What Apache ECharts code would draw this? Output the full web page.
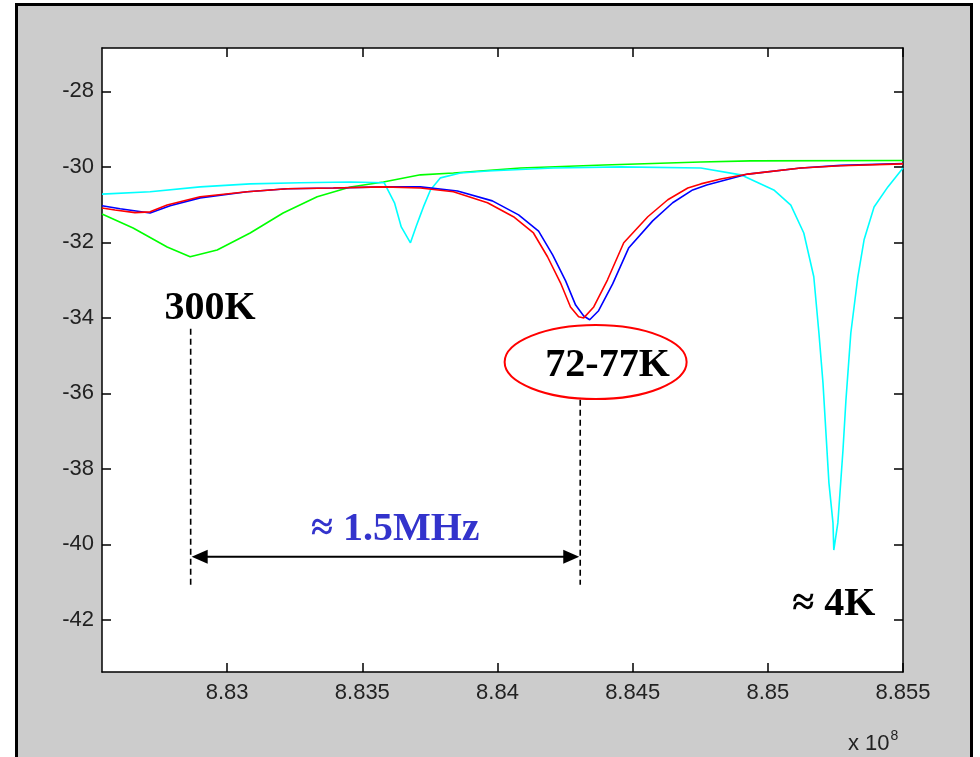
<!DOCTYPE html>
<html>
<head>
<meta charset="utf-8">
<script src="https://cdn.jsdelivr.net/npm/echarts@6/dist/echarts.min.js"></script>
<style>
html, body { margin: 0; padding: 0; background: #fff; }
#wrap { position: relative; width: 980px; height: 757px; overflow: hidden; }
#frame { position: absolute; left: 15px; top: 3px; width: 952px; height: 800px; background: #ccc; border: 3px solid #000; }
#curve { position: absolute; left: 0; top: 0; width: 980px; height: 757px; }
</style>
</head>
<body>
<div id="wrap">
  <div id="frame"></div>
  <div id="curve"></div>
</div>
<script>
// frequency in units of 1e8 Hz, level in dB
var xTicks = [8.83, 8.835, 8.84, 8.845, 8.85, 8.855];
var yTicks = [-42, -40, -38, -36, -34, -32, -30, -28];

var red77K = [
  [8.82537, -31.09], [8.82585, -31.14], [8.82659, -31.21], [8.82715, -31.19], [8.82778, -31.01],
  [8.82900, -30.79], [8.83074, -30.66], [8.83222, -30.58], [8.83393, -30.56], [8.83578, -30.53],
  [8.83715, -30.56], [8.83837, -30.66], [8.83963, -30.95], [8.84059, -31.32], [8.84133, -31.75],
  [8.84185, -32.38], [8.84233, -33.07], [8.84270, -33.71], [8.84300, -33.97], [8.84319, -34.00],
  [8.84356, -33.71], [8.84407, -32.99], [8.84467, -32.01], [8.84556, -31.32], [8.84630, -30.87],
  [8.84704, -30.56], [8.84752, -30.45], [8.84826, -30.32], [8.84926, -30.19], [8.85122, -30.03],
  [8.85270, -29.97], [8.85500, -29.92]
];
var blue72K = [
  [8.82537, -31.03], [8.82604, -31.11], [8.82715, -31.22], [8.82789, -31.03], [8.82900, -30.82],
  [8.83074, -30.66], [8.83222, -30.58], [8.83393, -30.56], [8.83578, -30.53], [8.83715, -30.53],
  [8.83852, -30.64], [8.83981, -30.90], [8.84078, -31.27], [8.84152, -31.70], [8.84204, -32.33],
  [8.84252, -33.02], [8.84289, -33.66], [8.84319, -33.95], [8.84341, -34.05], [8.84374, -33.81],
  [8.84426, -33.10], [8.84485, -32.15], [8.84574, -31.43], [8.84648, -30.95], [8.84722, -30.61],
  [8.84774, -30.48], [8.84926, -30.19], [8.85122, -30.03], [8.85270, -29.96], [8.85500, -29.91]
];
var green300K = [
  [8.82537, -31.25], [8.82652, -31.62], [8.82778, -32.12], [8.82863, -32.38], [8.82963, -32.20],
  [8.83085, -31.75], [8.83207, -31.22], [8.83333, -30.79], [8.83456, -30.53], [8.83578, -30.40],
  [8.83715, -30.21], [8.83837, -30.16], [8.84085, -30.03], [8.84393, -29.95], [8.84752, -29.87],
  [8.84937, -29.84], [8.85500, -29.83]
];
var cyan4K = [
  [8.82537, -30.72], [8.82715, -30.66], [8.82900, -30.53], [8.83085, -30.45], [8.83270, -30.42],
  [8.83456, -30.40], [8.83581, -30.42], [8.83619, -30.95], [8.83644, -31.59], [8.83678, -32.01],
  [8.83700, -31.56], [8.83715, -31.27], [8.83726, -31.06], [8.83752, -30.61], [8.83789, -30.29],
  [8.83863, -30.16], [8.83963, -30.11], [8.84207, -30.03], [8.84456, -30.00], [8.84752, -30.03],
  [8.84900, -30.21], [8.85022, -30.61], [8.85085, -31.01], [8.85133, -31.75], [8.85170, -32.91],
  [8.85189, -34.40], [8.85204, -35.72], [8.85215, -37.05], [8.85226, -38.37], [8.85241, -39.43],
  [8.85244, -40.15], [8.85259, -39.43], [8.85278, -37.50], [8.85289, -36.17], [8.85307, -34.40],
  [8.85333, -32.91], [8.85356, -31.93], [8.85393, -31.06], [8.85444, -30.53], [8.85500, -30.03]
];

// annotations (data coords)
var dip300K = 8.82865, dip77K = 8.84306;
var spanY = -40.33;

var chartDom = document.getElementById('curve');
var myChart = echarts.init(chartDom);

var tickStyle = { inside: true, length: 9, lineStyle: { color: '#000', width: 1.5 } };
var lineStyle = { color: '#000', width: 1.5 };
var labelFont = { fontSize: 22, fontFamily: 'Liberation Sans, Arial', color: '#222' };

function line(name, data, color) {
  return {
    name: name, type: 'line', data: data, symbol: 'none',
    lineStyle: { color: color, width: 1.6 }, itemStyle: { color: color },
    animation: false
  };
}

var option = {
  animation: false,
  grid: { left: 102, top: 48, right: 77, bottom: 85, show: true, backgroundColor: '#fff', borderWidth: 0 },
  xAxis: [
    {
      type: 'value', min: 8.82537, max: 8.855, position: 'bottom',
      axisLine: { show: true, lineStyle: lineStyle },
      axisTick: Object.assign({ customValues: xTicks }, tickStyle),
      axisLabel: Object.assign({
        customValues: xTicks, margin: 10,
        formatter: function (v) { return String(+(+v).toFixed(3)); }
      }, labelFont),
      splitLine: { show: false }
    },
    {
      type: 'value', min: 8.82537, max: 8.855, position: 'top',
      axisLine: { show: true, lineStyle: lineStyle },
      axisTick: Object.assign({ customValues: xTicks }, tickStyle),
      axisLabel: { show: false },
      splitLine: { show: false }
    }
  ],
  yAxis: [
    {
      type: 'value', min: -43.38, max: -26.85, position: 'left',
      axisLine: { show: true, lineStyle: lineStyle },
      axisTick: Object.assign({ customValues: yTicks }, tickStyle),
      axisLabel: Object.assign({ customValues: yTicks, margin: 8 }, labelFont),
      splitLine: { show: false }
    },
    {
      type: 'value', min: -43.38, max: -26.85, position: 'right',
      axisLine: { show: true, lineStyle: lineStyle },
      axisTick: Object.assign({ customValues: yTicks }, tickStyle),
      axisLabel: { show: false },
      splitLine: { show: false }
    }
  ],
  series: [
    line('300K', green300K, '#00ff00'),
    line('4K', cyan4K, '#00ffff'),
    line('72K', blue72K, '#0000ff'),
    line('77K', red77K, '#ff0000')
  ]
};
option && myChart.setOption(option);

// annotation layer
function px(x, y) { return myChart.convertToPixel({ xAxisIndex: 0, yAxisIndex: 0 }, [x, y]); }
var serif = 'bold 40px "Liberation Serif", "Times New Roman", serif';
var a1 = px(dip300K, -34.29), a2 = px(dip300K, -41.15);
var b1 = px(dip77K, -36.17), b2 = px(dip77K, -41.07);
var s1 = px(dip300K, spanY), s2 = px(dip77K, spanY);
var t300 = px(8.82937, -33.76), t77 = px(8.84407, -35.27), ell = px(8.84363, -35.17);
var tMHz = px(8.83622, -39.62), t4K = px(8.85244, -41.60);
var dash = { stroke: '#000', lineWidth: 1.6, lineDash: [6, 4] };

myChart.setOption({
  graphic: [
    { type: 'line', shape: { x1: a1[0], y1: a1[1], x2: a2[0], y2: a2[1] }, style: dash, z: 10 },
    { type: 'line', shape: { x1: b1[0], y1: b1[1], x2: b2[0], y2: b2[1] }, style: dash, z: 10 },
    { type: 'line', shape: { x1: s1[0] + 10, y1: s1[1], x2: s2[0] - 10, y2: s2[1] }, style: { stroke: '#000', lineWidth: 2 }, z: 10 },
    { type: 'polygon', shape: { points: [[s1[0] + 1, s1[1]], [s1[0] + 17, s1[1] - 7], [s1[0] + 17, s1[1] + 7]] }, style: { fill: '#000' }, z: 10 },
    { type: 'polygon', shape: { points: [[s2[0] - 1, s2[1]], [s2[0] - 17, s2[1] - 7], [s2[0] - 17, s2[1] + 7]] }, style: { fill: '#000' }, z: 10 },
    { type: 'text', x: t300[0], y: t300[1], style: { text: '300K', font: serif, fill: '#000', align: 'center', verticalAlign: 'middle' }, z: 10 },
    { type: 'ellipse', shape: { cx: ell[0], cy: ell[1], rx: 91, ry: 37 }, style: { fill: 'none', stroke: '#ff0000', lineWidth: 2 }, z: 10 },
    { type: 'text', x: t77[0], y: t77[1], style: { text: '72-77K', font: serif, fill: '#000', align: 'center', verticalAlign: 'middle' }, z: 10 },
    { type: 'text', x: tMHz[0], y: tMHz[1], style: { text: '\u2248 1.5MHz', font: serif, fill: '#3333cc', align: 'center', verticalAlign: 'middle' }, z: 10 },
    { type: 'text', x: t4K[0], y: t4K[1], style: { text: '\u2248 4K', font: serif, fill: '#000', align: 'center', verticalAlign: 'middle' }, z: 10 },
    {
      type: 'text', x: 848, y: 729, z: 10,
      style: {
        text: '{b|x 10}{s|8}', fill: '#222',
        rich: {
          b: { fontSize: 22, fontFamily: 'Liberation Sans, Arial', fill: '#222', verticalAlign: 'bottom' },
          s: { fontSize: 14, fontFamily: 'Liberation Sans, Arial', fill: '#222', verticalAlign: 'top', padding: [0, 0, 12, 1] }
        }
      }
    }
  ]
});
</script>
</body>
</html>
